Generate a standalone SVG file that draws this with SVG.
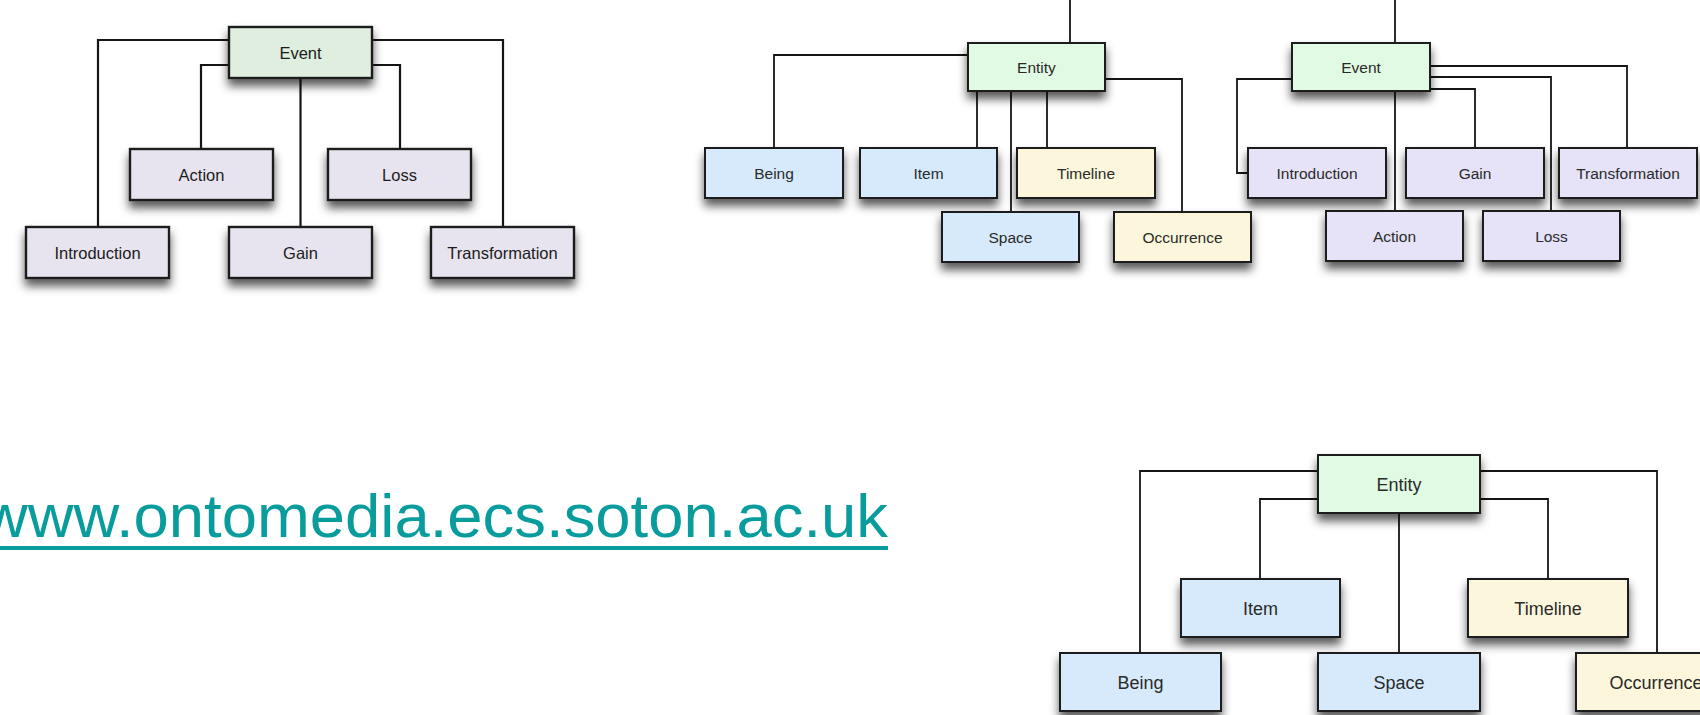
<svg xmlns="http://www.w3.org/2000/svg" width="1700" height="715" viewBox="0 0 1700 715">
<defs>
<filter id="sh" x="-20%" y="-30%" width="140%" height="200%">
<feDropShadow dx="0" dy="7" stdDeviation="5" flood-color="#000" flood-opacity="0.65"/>
</filter>
<style>
.b rect{filter:url(#sh);stroke:#1e1e1e;stroke-width:2}
.b text{font-family:"Liberation Sans",Arial,sans-serif;text-anchor:middle;fill:#2a2a2a}
.tl text{font-size:16.5px;fill:#1c1c1c}
.tl rect{stroke-width:2.4}
.tm text{font-size:15.5px}
.br text{font-size:18px}
.g1{fill:#dfeedf}
.g2{fill:#e1fae3}
.lv1{fill:#e8e4ef}
.lv2{fill:#e6e3f8}
.bl{fill:#d6eafb}
.yl{fill:#fcf7dc}
.c path{fill:none;stroke:#151515;stroke-width:1.8}
.c .thick{stroke-width:2.2}
.url{font-family:"Liberation Sans",Arial,sans-serif;font-size:62px;fill:#089c9c}
</style>
</defs>

<g class="c" id="connectors">
<path class="thick" d="M229,40 H98 V227"/>
<path class="thick" d="M229,65 H201 V149"/>
<path class="thick" d="M372,40 H503 V227"/>
<path class="thick" d="M372,65 H400 V149"/>
<path class="thick" d="M300.5,78 V227"/>

<path d="M1070,0 V43"/>
<path d="M968,55 H774 V148"/>
<path d="M977,91 V148"/>
<path d="M1011,91 V212"/>
<path d="M1047,91 V148"/>
<path d="M1105,79 H1182 V212"/>

<path d="M1395,0 V43"/>
<path d="M1292,79 H1237 V173 H1248"/>
<path d="M1430,66 H1627 V148"/>
<path d="M1430,77 H1551 V211"/>
<path d="M1430,89 H1475 V148"/>
<path d="M1395,91 V211"/>

<path d="M1318,471 H1140 V653"/>
<path d="M1318,499 H1260 V579"/>
<path d="M1480,471 H1657 V653"/>
<path d="M1480,499 H1548 V579"/>
<path d="M1399,513 V653"/>
</g>

<g class="b tl">
<g id="tl-event"><rect class="g1" x="229" y="27" width="143" height="51"/><text x="300.5" y="58.5">Event</text></g>
<g id="tl-action"><rect class="lv1" x="130" y="149" width="143" height="51"/><text x="201.5" y="180.5">Action</text></g>
<g id="tl-loss"><rect class="lv1" x="328" y="149" width="143" height="51"/><text x="399.5" y="180.5">Loss</text></g>
<g id="tl-introduction"><rect class="lv1" x="26" y="227" width="143" height="51"/><text x="97.5" y="258.5">Introduction</text></g>
<g id="tl-gain"><rect class="lv1" x="229" y="227" width="143" height="51"/><text x="300.5" y="258.5">Gain</text></g>
<g id="tl-transformation"><rect class="lv1" x="431" y="227" width="143" height="51"/><text x="502.5" y="258.5">Transformation</text></g>
</g>

<g class="b tm">
<g id="tm-entity"><rect class="g2" x="968" y="43" width="137" height="48"/><text x="1036.5" y="72.5">Entity</text></g>
<g id="tm-being"><rect class="bl" x="705" y="148" width="138" height="50"/><text x="774" y="178.5">Being</text></g>
<g id="tm-item"><rect class="bl" x="860" y="148" width="137" height="50"/><text x="928.5" y="178.5">Item</text></g>
<g id="tm-timeline"><rect class="yl" x="1017" y="148" width="138" height="50"/><text x="1086" y="178.5">Timeline</text></g>
<g id="tm-space"><rect class="bl" x="942" y="212" width="137" height="50"/><text x="1010.5" y="242.5">Space</text></g>
<g id="tm-occurrence"><rect class="yl" x="1114" y="212" width="137" height="50"/><text x="1182.5" y="242.5">Occurrence</text></g>

<g id="tr-event"><rect class="g2" x="1292" y="43" width="138" height="48"/><text x="1361" y="72.5">Event</text></g>
<g id="tr-introduction"><rect class="lv2" x="1248" y="148" width="138" height="50"/><text x="1317" y="178.5">Introduction</text></g>
<g id="tr-gain"><rect class="lv2" x="1406" y="148" width="138" height="50"/><text x="1475" y="178.5">Gain</text></g>
<g id="tr-transformation"><rect class="lv2" x="1559" y="148" width="138" height="50"/><text x="1628" y="178.5">Transformation</text></g>
<g id="tr-action"><rect class="lv2" x="1326" y="211" width="137" height="50"/><text x="1394.5" y="241.5">Action</text></g>
<g id="tr-loss"><rect class="lv2" x="1483" y="211" width="137" height="50"/><text x="1551.5" y="241.5">Loss</text></g>
</g>

<g class="b br">
<g id="br-entity"><rect class="g2" x="1318" y="455" width="162" height="58"/><text x="1399" y="490.5">Entity</text></g>
<g id="br-item"><rect class="bl" x="1181" y="579" width="159" height="58"/><text x="1260.5" y="614.5">Item</text></g>
<g id="br-timeline"><rect class="yl" x="1468" y="579" width="160" height="58"/><text x="1548" y="614.5">Timeline</text></g>
<g id="br-being"><rect class="bl" x="1060" y="653" width="161" height="58"/><text x="1140.5" y="688.5">Being</text></g>
<g id="br-space"><rect class="bl" x="1318" y="653" width="162" height="58"/><text x="1399" y="688.5">Space</text></g>
<g id="br-occurrence"><rect class="yl" x="1576" y="653" width="160" height="58"/><text x="1656" y="688.5">Occurrence</text></g>
</g>

<g id="url">
<text class="url" x="-18" y="537" textLength="906" lengthAdjust="spacingAndGlyphs">www.ontomedia.ecs.soton.ac.uk</text>
<rect x="0" y="546" width="888" height="4" fill="#089c9c"/>
</g>
</svg>
